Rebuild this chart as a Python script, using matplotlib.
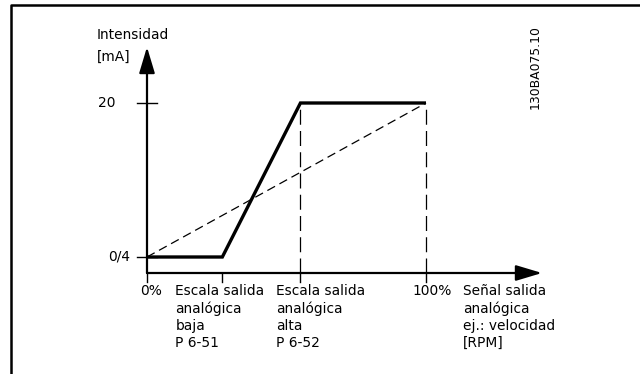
import matplotlib
matplotlib.use("Agg")
import matplotlib.pyplot as plt
from matplotlib.lines import Line2D

# data: analog output current vs. signal (percent of range)
signal_pct = [0, 27, 55, 100]
current_ma = [4, 4, 20, 20]
linear_pct = [0, 100]
linear_ma = [4, 20]
x_ticks = [0, 27, 55, 100]
x_tick_labels = ['0%', 'Escala salida\nanalógica\nbaja\nP 6-51',
                 'Escala salida\nanalógica\nalta\nP 6-52', '100%']
y_ticks = [4, 20]
y_tick_labels = ['0/4', '20']

W, H = 640, 374
# pixel anchors of the drawing
X0_PX, X100_PX = 147, 426
Y4_PX, Y20_PX = 257, 103
sx = (X100_PX - X0_PX) / 100.0
sy = (Y4_PX - Y20_PX) / 16.0

fig = plt.figure(figsize=(W / 100, H / 100), dpi=100)
ax = fig.add_axes([0, 0, 1, 1])
ax.set_xlim(-X0_PX / sx, (W - X0_PX) / sx)
ax.set_ylim(4 - (H - Y4_PX) / sy, 4 + Y4_PX / sy)
ax.axis('off')

plt.rcParams['font.family'] = ['DejaVu Sans']
fs = 9.9
ls = 1.27

x_axis_y = 4 - (273 - Y4_PX) / sy
x_tip = (542 - X0_PX) / sx
y_tip = 4 + (Y4_PX - 47) / sy

# axes with arrows
for tip, start in [((x_tip, x_axis_y), (0, x_axis_y)),
                   ((0, y_tip), (0, x_axis_y))]:
    ax.annotate('', xy=tip, xytext=start,
                arrowprops=dict(arrowstyle='-|>,head_length=16,head_width=4.8',
                                mutation_scale=1, lw=1.6, color='black',
                                shrinkA=0, shrinkB=0))

# ticks
tick_dx = 10 / sx
for yv in y_ticks:
    ax.plot([-tick_dx, tick_dx], [yv, yv], color='black', lw=1.0)
tick_dy = 9 / sy
for xv in x_ticks:
    ax.plot([xv, xv], [x_axis_y, x_axis_y - tick_dy], color='black', lw=1.0)

# guide lines
for xv in x_ticks[2:]:
    ax.plot([xv, xv], [x_axis_y, 20], color='black', lw=0.9,
            dashes=(12, 5))
ax.plot(linear_pct, linear_ma, color='black', lw=0.9, dashes=(7, 4))

# output curve
ax.plot(signal_pct, current_ma, color='black', lw=2.4,
        solid_joinstyle='miter', solid_capstyle='butt')

# labels
for yv, lab, dx in zip(y_ticks, y_tick_labels, [-17, -31]):
    ax.annotate(lab, xy=(0, yv), xytext=(dx, 0), textcoords='offset pixels',
                ha='right', va='center', fontsize=fs)

label_dx = [4, -47, -24, 6]
label_ha = ['center', 'left', 'left', 'center']
for xv, lab, dx, ha in zip(x_ticks, x_tick_labels, label_dx, label_ha):
    ax.annotate(lab, xy=(xv, x_axis_y), xytext=(dx, -11),
                textcoords='offset pixels', ha=ha, va='top',
                fontsize=fs, linespacing=ls)

ax.annotate('Señal salida\nanalógica\nej.: velocidad\n[RPM]',
            xy=(100, x_axis_y), xytext=(37, -11), textcoords='offset pixels',
            ha='left', va='top', fontsize=fs, linespacing=ls)

ax.annotate('Intensidad', xy=(0, y_tip), xytext=(-50, 12),
            textcoords='offset pixels', ha='left', va='center', fontsize=fs)
ax.annotate('[mA]', xy=(0, y_tip), xytext=(-50, -10),
            textcoords='offset pixels', ha='left', va='center', fontsize=fs)

fig.text(535 / W, 1 - 67 / H, '130BA075.10', rotation=90, ha='center',
         va='center', fontsize=8.9)

# frame
fig.add_artist(Line2D([11 / W, 11 / W, 1], [0, 1 - 5 / H, 1 - 5 / H],
                      color='black', lw=1.8, transform=fig.transFigure))

fig.savefig('out.png', dpi=100)
